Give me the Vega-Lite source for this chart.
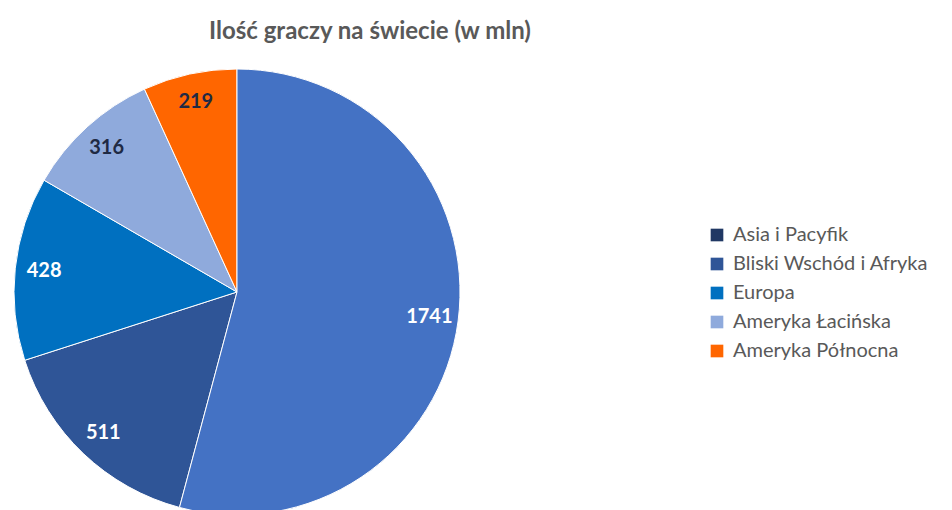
{
  "$schema": "https://vega.github.io/schema/vega-lite/v6.json",
  "width": 474,
  "height": 464,
  "autosize": {"type": "none"},
  "padding": {"left": 0, "top": 60, "right": 478, "bottom": 0},
  "background": "white",
  "config": {"view": {"stroke": null}},
  "title": {
    "text": "Ilość graczy na świecie (w mln)",
    "font": "Lato",
    "fontSize": 24,
    "fontWeight": "bold",
    "color": "#595959",
    "anchor": "middle",
    "dx": 133,
    "offset": 16
  },
  "data": {
    "values": [
      {"region": "Asia i Pacyfik", "value": 1741, "idx": 1},
      {"region": "Bliski Wschód i Afryka", "value": 511, "idx": 2},
      {"region": "Europa", "value": 428, "idx": 3},
      {"region": "Ameryka Łacińska", "value": 316, "idx": 4},
      {"region": "Ameryka Północna", "value": 219, "idx": 5}
    ]
  },
  "encoding": {
    "theta": {"field": "value", "type": "quantitative", "stack": true},
    "order": {"field": "idx", "type": "quantitative"}
  },
  "layer": [
    {
      "mark": {"type": "arc", "radius": 223, "stroke": "white", "strokeWidth": 1},
      "encoding": {
        "color": {
          "field": "region",
          "type": "nominal",
          "scale": {
            "domain": ["Asia i Pacyfik", "Bliski Wschód i Afryka", "Europa", "Ameryka Łacińska", "Ameryka Północna"],
            "range": ["#203864", "#2F5597", "#0070C0", "#8FAADC", "#FF6600"]
          },
          "legend": {
            "orient": "none",
            "legendX": 707,
            "legendY": 165,
            "title": null,
            "symbolType": "square",
            "symbolSize": 160,
            "symbolStrokeWidth": 0,
            "labelFont": "Lato",
            "labelFontSize": 20,
            "labelColor": "#595959",
            "labelOffset": 6,
            "labelLimit": 400,
            "rowPadding": 9,
            "padding": 0
          }
        }
      }
    },
    {
      "transform": [{"filter": "datum.idx == 1"}],
      "mark": {"type": "arc", "radius": 223, "stroke": "white", "strokeWidth": 1, "fill": "#4472C4"},
      "encoding": {}
    },
    {
      "mark": {"type": "text", "radius": 194, "font": "Lato", "fontSize": 20, "fontWeight": "bold"},
      "encoding": {
        "text": {"field": "value", "type": "quantitative", "format": "d"},
        "color": {"condition": {"test": "datum.value < 400", "value": "#1F2A44"}, "value": "white"}
      }
    }
  ]
}
